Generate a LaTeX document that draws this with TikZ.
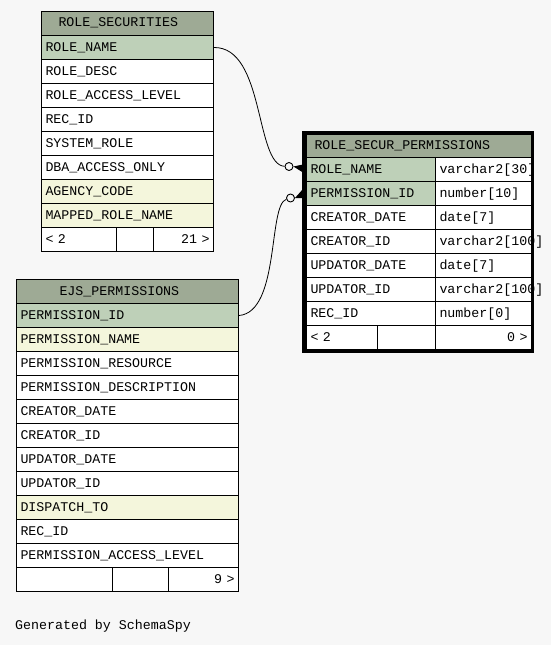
\documentclass[tikz,border=0pt]{standalone}
\usepackage{fontspec}
\newfontfamily\dmono{Liberation Mono}
\usetikzlibrary{calc}
\definecolor{bgc}{HTML}{F7F7F7}
\definecolor{hdrc}{HTML}{9EAA95}
\definecolor{keyc}{HTML}{BED0B8}
\definecolor{idxc}{HTML}{F4F6DC}
\tikzset{
  cellbox/.style={draw=black, line width=1pt, anchor=north west, minimum height=24pt,
    inner xsep=4pt, inner ysep=0pt, text height=9pt, text depth=2pt,
    font=\dmono\fontsize{13.3}{16}\selectfont, align=left, fill=white},
  hdr/.style={cellbox, fill=hdrc},
  keyrow/.style={cellbox, fill=keyc},
  idxrow/.style={cellbox, fill=idxc},
  rcell/.style={cellbox, align=right},
  conn/.style={draw=black, line width=0.8pt},
  odot/.style={circle, draw=black, line width=0.9pt, fill=bgc, minimum size=8pt, inner sep=0pt},
}
\begin{document}
\begin{tikzpicture}[x=1pt,y=-1pt]
\useasboundingbox (0,0) rectangle (551,645);
\fill[bgc] (0,0) rectangle (551,645);

% ROLE_SECURITIES
\node[hdr, text width=164pt] (t1h) at (41,11) {\hspace*{13pt}ROLE\_SECURITIES};
\node[keyrow, text width=164pt] (t1r1) at (41,35) {ROLE\_NAME};
\node[cellbox, text width=164pt] (t1r2) at (41,59) {ROLE\_DESC};
\node[cellbox, text width=164pt] (t1r3) at (41,83) {ROLE\_ACCESS\_LEVEL};
\node[cellbox, text width=164pt] (t1r4) at (41,107) {REC\_ID};
\node[cellbox, text width=164pt] (t1r5) at (41,131) {SYSTEM\_ROLE};
\node[cellbox, text width=164pt] (t1r6) at (41,155) {DBA\_ACCESS\_ONLY};
\node[idxrow, text width=164pt] (t1r7) at (41,179) {AGENCY\_CODE};
\node[idxrow, text width=164pt] (t1r8) at (41,203) {MAPPED\_ROLE\_NAME};
\node[cellbox, text width=67pt] (t1f1) at (41,227) {< 2};
\node[cellbox, text width=29pt] (t1f2) at (116,227) {};
\node[rcell, text width=52pt] (t1f3) at (153,227) {21 >};

% EJS_PERMISSIONS
\node[hdr, text width=214pt] (t2h) at (16,279) {\hspace*{39pt}EJS\_PERMISSIONS};
\node[keyrow, text width=214pt] (t2r1) at (16,303) {PERMISSION\_ID};
\node[idxrow, text width=214pt] (t2r2) at (16,327) {PERMISSION\_NAME};
\node[cellbox, text width=214pt] (t2r3) at (16,351) {PERMISSION\_RESOURCE};
\node[cellbox, text width=214pt] (t2r4) at (16,375) {PERMISSION\_DESCRIPTION};
\node[cellbox, text width=214pt] (t2r5) at (16,399) {CREATOR\_DATE};
\node[cellbox, text width=214pt] (t2r6) at (16,423) {CREATOR\_ID};
\node[cellbox, text width=214pt] (t2r7) at (16,447) {UPDATOR\_DATE};
\node[cellbox, text width=214pt] (t2r8) at (16,471) {UPDATOR\_ID};
\node[idxrow, text width=214pt] (t2r9) at (16,495) {DISPATCH\_TO};
\node[cellbox, text width=214pt] (t2r10) at (16,519) {REC\_ID};
\node[cellbox, text width=214pt] (t2r11) at (16,543) {PERMISSION\_ACCESS\_LEVEL};
\node[cellbox, text width=88pt] (t2f1) at (16,567) {};
\node[cellbox, text width=48pt] (t2f2) at (112,567) {};
\node[rcell, text width=62pt] (t2f3) at (168,567) {9 >};

% ROLE_SECUR_PERMISSIONS
\node[hdr, text width=217pt, minimum height=23pt] (t3h) at (306,134) {\hspace*{4pt}ROLE\_SECUR\_PERMISSIONS};
\node[keyrow, text width=121pt] (t3n1) at (306,157) {ROLE\_NAME};
\node[keyrow, text width=121pt] (t3n2) at (306,181) {PERMISSION\_ID};
\node[cellbox, text width=121pt] (t3n3) at (306,205) {CREATOR\_DATE};
\node[cellbox, text width=121pt] (t3n4) at (306,229) {CREATOR\_ID};
\node[cellbox, text width=121pt] (t3n5) at (306,253) {UPDATOR\_DATE};
\node[cellbox, text width=121pt] (t3n6) at (306,277) {UPDATOR\_ID};
\node[cellbox, text width=121pt] (t3n7) at (306,301) {REC\_ID};
\node[cellbox, text width=88pt] (t3t1) at (435,157) {varchar2[30]};
\node[cellbox, text width=88pt] (t3t2) at (435,181) {number[10]};
\node[cellbox, text width=88pt] (t3t3) at (435,205) {date[7]};
\node[cellbox, text width=88pt] (t3t4) at (435,229) {varchar2[100]};
\node[cellbox, text width=88pt] (t3t5) at (435,253) {date[7]};
\node[cellbox, text width=88pt] (t3t6) at (435,277) {varchar2[100]};
\node[cellbox, text width=88pt] (t3t7) at (435,301) {number[0]};
\node[cellbox, text width=63pt] (t3f1) at (306,325) {< 2};
\node[cellbox, text width=50pt] (t3f2) at (377,325) {};
\node[rcell, text width=88pt] (t3f3) at (435,325) {0 >};
\draw[line width=3.5pt] (304,132.5) rectangle (532.5,351);

% connectors
\node[odot] (o1) at (289,166.5) {};
\node[odot] (o2) at (290.5,198) {};
\draw[conn] (t1r1.east) .. controls (265,47) and (255,165) .. (o1);
\draw[conn] (t2r1.east) .. controls (280,312) and (268,205) .. (o2);
\fill (o1.east) -- ($(t3n1.west)+(-3,-5)$) -- ($(t3n1.west)+(-3,3)$) -- cycle;
\fill (o2.east) -- ($(t3n2.west)+(-3,-4.5)$) -- ($(t3n2.west)+(-3,4.5)$) -- cycle;

\node[anchor=west, inner sep=0pt, text height=9pt, text depth=2pt,
  font=\dmono\fontsize{13.3}{16}\selectfont] (gen) at (15,626.3) {Generated by SchemaSpy};
\end{tikzpicture}
\end{document}
